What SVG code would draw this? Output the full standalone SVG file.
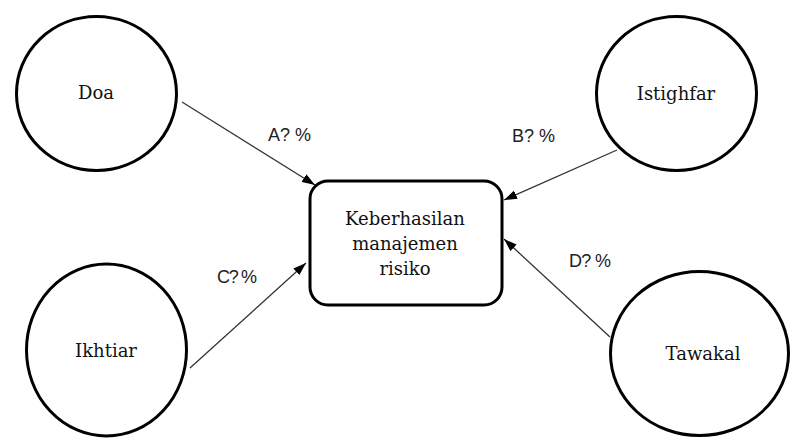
<svg xmlns="http://www.w3.org/2000/svg" width="791" height="439" viewBox="0 0 791 439">
<style>
.node{fill:#fff;stroke:#000;stroke-width:3}
.nt{font-family:"DejaVu Serif",serif;font-size:18px;fill:#111;text-anchor:middle}
.lbl{font-family:"Liberation Sans",Arial,sans-serif;font-size:18px;fill:#222}
.conn{stroke:#333;stroke-width:1.3;fill:none;marker-end:url(#arr)}
</style>
<defs>
<marker id="arr" markerUnits="userSpaceOnUse" markerWidth="14" markerHeight="10" refX="13" refY="5" orient="auto">
<path d="M0,0.5 L13,5 L0,9.5 z" fill="#000"/>
</marker>
</defs>
<rect width="791" height="439" fill="#fff"/>
<g id="connectors">
<line class="conn" x1="182" y1="102" x2="315" y2="185"/>
<line class="conn" x1="617" y1="150" x2="504" y2="200"/>
<line class="conn" x1="190" y1="368" x2="306" y2="263"/>
<line class="conn" x1="610" y1="337" x2="504" y2="239"/>
</g>
<g id="labels">
<text class="lbl" x="268" y="141">A? %</text>
<text class="lbl" x="512" y="142">B? %</text>
<text class="lbl" x="217" y="283" textLength="40">C? %</text>
<text class="lbl" x="569" y="267" textLength="42">D? %</text>
</g>
<g id="node-doa">
<ellipse class="node" cx="96.5" cy="93.5" rx="80" ry="77"/>
<text class="nt" x="96" y="99">Doa</text>
</g>
<g id="node-istighfar">
<ellipse class="node" cx="676.5" cy="93.5" rx="80" ry="77"/>
<text class="nt" x="676" y="100">Istighfar</text>
</g>
<g id="node-ikhtiar">
<ellipse class="node" cx="106.5" cy="350" rx="80" ry="86"/>
<text class="nt" x="106" y="357">Ikhtiar</text>
</g>
<g id="node-tawakal">
<ellipse class="node" cx="699.5" cy="353.5" rx="89" ry="82"/>
<text class="nt" x="703" y="360">Tawakal</text>
</g>
<g id="node-center">
<rect class="node" x="310" y="181" width="192" height="124" rx="18" ry="18"/>
<text class="nt" x="405" y="225">Keberhasilan</text>
<text class="nt" x="405" y="250">manajemen</text>
<text class="nt" x="405" y="275">risiko</text>
</g>
</svg>
